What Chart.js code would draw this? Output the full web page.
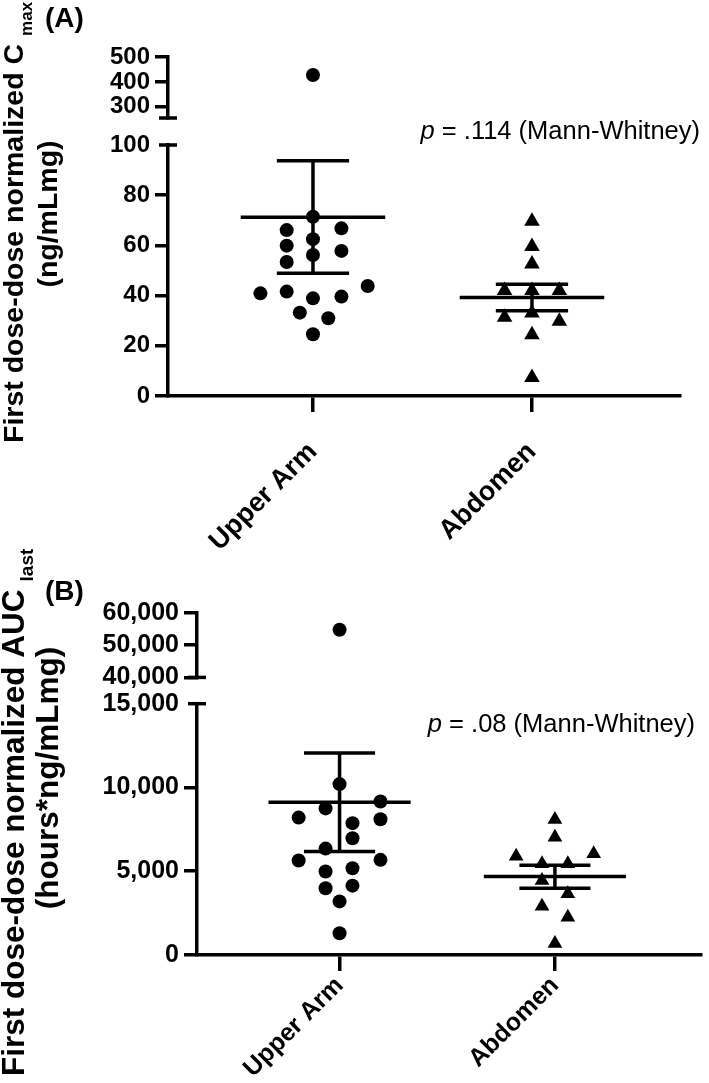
<!DOCTYPE html>
<html>
<head>
<meta charset="utf-8">
<script src="https://cdn.jsdelivr.net/npm/chart.js@4.4.1/dist/chart.umd.min.js"></script>
<style>
html, body { margin: 0; padding: 0; background: #fff; }
#wrap { position: relative; width: 709px; height: 1083px; overflow: hidden; }
canvas { position: absolute; left: 0; }
</style>
</head>
<body>
<div id="wrap">
  <canvas id="panelA" width="709" height="600" style="top:0"></canvas>
  <canvas id="panelB" width="709" height="603" style="top:480px"></canvas>
</div>
<script>
const categories = ['Upper Arm', 'Abdomen'];

// (A) first dose-dose normalized Cmax (ng/mLmg)
const cmaxUpperArm = [71.4, 62.5, 56.2, 38.9, 24.6, 66.1, 59.9, 53.4, 41.6, 66.8, 57.8, 39.6, 40.9, 43.8, 33.2, 31.0, 428];
const cmaxUpperArmJitter = [0, 0, 0, 0, 0, -0.12, -0.12, -0.12, -0.12, 0.13, 0.13, 0.13, -0.24, 0.25, -0.06, 0.07, 0];
const cmaxAbdomen = [69.6, 59.6, 52.6, 42.0, 33.1, 24.4, 7.4, 42.0, 31.4, 42.0, 29.8];
const cmaxAbdomenJitter = [0, 0, 0, 0, 0, 0, 0, -0.125, -0.125, 0.125, 0.125];
const cmaxMean = [71.2, 39.2];
const cmaxErrHigh = [93.7, 44.5];
const cmaxErrLow = [48.9, 34.0];
const cmaxLowerTicks = [0, 20, 40, 60, 80, 100];
const cmaxUpperTicks = [300, 400, 500];

// (B) first dose-dose normalized AUClast (hours*ng/mLmg)
const aucUpperArm = [10200, 3200, 1300, 8750, 6350, 4980, 3980, 7870, 6970, 5180, 4140, 8200, 5640, 9160, 8100, 5680, 54800];
const aucUpperArmJitter = [0, 0, 0, -0.065, -0.065, -0.065, -0.065, 0.06, 0.06, 0.06, 0.06, -0.19, -0.19, 0.19, 0.19, 0.19, 0];
const aucAbdomen = [8090, 7030, 5900, 6040, 5440, 5440, 4440, 3650, 2910, 2250, 680];
const aucAbdomenJitter = [0, 0, -0.18, 0.18, -0.06, 0.06, -0.06, 0.06, -0.06, 0.06, 0];
const aucMean = [9120, 4680];
const aucErrHigh = [12050, 5360];
const aucErrLow = [6180, 3980];
const aucLowerTicks = [0, 5000, 10000, 15000];
const aucUpperTicks = [40000, 50000, 60000];

const BLACK = '#000';
const FONT = '"Liberation Sans", Arial, Helvetica, sans-serif';
const LINE_W = 3.5;
Chart.defaults.font.family = FONT;
Chart.defaults.color = BLACK;

function pointsFor(values, jitter, catIndex, keep) {
    return values
        .map((v, i) => ({ x: catIndex + jitter[i], y: v }))
        .filter(p => keep(p.y));
}

// mean line, two caps and the vertical whisker for each group
function errorBarSets(means, highs, lows) {
    const sets = [];
    means.forEach((m, i) => {
        const segs = [
            [[i - 0.33, m], [i + 0.33, m]],
            [[i - 0.165, highs[i]], [i + 0.165, highs[i]]],
            [[i - 0.165, lows[i]], [i + 0.165, lows[i]]],
            [[i, lows[i]], [i, highs[i]]]
        ];
        segs.forEach(seg => sets.push({
            data: seg.map(([x, y]) => ({ x, y })),
            showLine: true,
            borderColor: BLACK,
            borderWidth: LINE_W,
            pointRadius: 0,
            yAxisID: 'y',
            order: 0
        }));
    });
    return sets;
}

// break caps, panel letter, p-value note and the y title with its subscript
const panelDecor = {
    id: 'panelDecor',
    afterDraw(chart, args, o) {
        const ctx = chart.ctx;
        const top = chart.scales.yTop;
        const low = chart.scales.y;
        const ax = chart.chartArea.left;
        ctx.save();
        ctx.strokeStyle = BLACK;
        ctx.lineWidth = LINE_W;
        [top.getPixelForValue(top.min), low.getPixelForValue(low.max)].forEach(py => {
            ctx.beginPath();
            ctx.moveTo(ax - 9, py);
            ctx.lineTo(ax + 9, py);
            ctx.stroke();
        });

        ctx.fillStyle = BLACK;
        ctx.textBaseline = 'alphabetic';
        ctx.font = 'bold 28px ' + FONT;
        ctx.textAlign = 'left';
        ctx.fillText(o.letter, o.letterX, o.letterY);

        ctx.font = o.noteSize + 'px ' + FONT;
        ctx.textAlign = 'right';
        ctx.fillText(o.note, o.noteX, o.noteY);
        const w = ctx.measureText(o.note).width;
        ctx.font = 'italic ' + o.noteSize + 'px ' + FONT;
        ctx.fillText('p', o.noteX - w, o.noteY);

        ctx.translate(o.titleX, o.titleY);
        ctx.rotate(-Math.PI / 2);
        ctx.textAlign = 'left';
        ctx.font = 'bold ' + o.titleSize + 'px ' + FONT;
        ctx.fillText(o.title, 0, 0);
        const tw = ctx.measureText(o.title).width;
        ctx.font = 'bold ' + Math.round(o.titleSize * 0.6) + 'px ' + FONT;
        ctx.fillText(o.titleSub, tw + 8, 9);
        ctx.font = 'bold ' + o.titleSize + 'px ' + FONT;
        ctx.textAlign = 'center';
        ctx.fillText(o.unit, o.titleY - o.unitY, o.unitX - o.titleX);
        ctx.restore();
    }
};

function makePanel(id, d, look) {
    const lowerMax = d.lowerTicks[d.lowerTicks.length - 1];
    const isHigh = v => v > lowerMax;
    const isLow = v => !isHigh(v);

    const datasets = [
        { data: pointsFor(d.arm, d.armJitter, 0, isLow), yAxisID: 'y', pointStyle: 'circle', pointRadius: look.dotR },
        { data: pointsFor(d.arm, d.armJitter, 0, isHigh), yAxisID: 'yTop', pointStyle: 'circle', pointRadius: look.dotR },
        { data: pointsFor(d.abd, d.abdJitter, 1, isLow), yAxisID: 'y', pointStyle: 'triangle', pointRadius: look.triR },
        { data: pointsFor(d.abd, d.abdJitter, 1, isHigh), yAxisID: 'yTop', pointStyle: 'triangle', pointRadius: look.triR }
    ].map(ds => Object.assign({
        backgroundColor: BLACK,
        borderColor: BLACK,
        pointBorderWidth: 0,
        order: 1
    }, ds)).concat(errorBarSets(d.mean, d.errHigh, d.errLow));

    const tickFont = { weight: 'bold', size: look.tickSize };
    const yGrid = { drawOnChartArea: false, drawTicks: true, tickLength: 13, lineWidth: LINE_W, color: BLACK };
    const yCommon = {
        type: 'linear',
        position: 'left',
        stack: 'left',
        grid: yGrid,
        border: { display: true, width: LINE_W, color: BLACK },
        ticks: {
            font: tickFont, color: BLACK, padding: 5, autoSkip: false,
            callback: v => v.toLocaleString('en-US')
        },
        afterFit: s => { s.width = look.axisX; }
    };

    new Chart(document.getElementById(id), {
        type: 'scatter',
        data: { datasets: datasets },
        options: {
            responsive: false,
            animation: false,
            devicePixelRatio: 1,
            layout: { padding: { top: look.padTop, right: look.padRight, left: 0, bottom: 0 } },
            plugins: {
                legend: { display: false },
                tooltip: { enabled: false },
                panelDecor: look.decor
            },
            scales: {
                x: {
                    type: 'linear',
                    min: -0.662,
                    max: 1.676,
                    afterBuildTicks: s => { s.ticks = categories.map((c, i) => ({ value: i })); },
                    ticks: {
                        callback: v => categories[v],
                        font: { weight: 'bold', size: look.catSize },
                        color: BLACK,
                        minRotation: 45,
                        maxRotation: 45,
                        autoSkip: false,
                        padding: look.catPad
                    },
                    grid: { drawOnChartArea: false, tickLength: 16, lineWidth: LINE_W, color: BLACK },
                    border: { display: true, width: LINE_W, color: BLACK },
                    afterFit: s => { s.height = look.xHeight; }
                },
                y: Object.assign({}, yCommon, {
                    min: 0,
                    max: lowerMax,
                    stackWeight: look.lowerPx,
                    afterBuildTicks: s => { s.ticks = d.lowerTicks.map(v => ({ value: v })); },
                    grid: Object.assign({}, yGrid, {
                        tickColor: c => (c.tick && c.tick.value === lowerMax) ? 'rgba(0,0,0,0)' : BLACK
                    })
                }),
                yGap: {
                    type: 'linear',
                    display: false,
                    position: 'left',
                    stack: 'left',
                    stackWeight: look.gapPx,
                    min: 0,
                    max: 1
                },
                yTop: Object.assign({}, yCommon, {
                    min: d.upperMin,
                    max: d.upperTicks[d.upperTicks.length - 1],
                    stackWeight: look.upperPx,
                    afterBuildTicks: s => { s.ticks = d.upperTicks.map(v => ({ value: v })); }
                })
            }
        },
        plugins: [panelDecor]
    });
}

makePanel('panelA', {
    arm: cmaxUpperArm, armJitter: cmaxUpperArmJitter,
    abd: cmaxAbdomen, abdJitter: cmaxAbdomenJitter,
    mean: cmaxMean, errHigh: cmaxErrHigh, errLow: cmaxErrLow,
    lowerTicks: cmaxLowerTicks, upperTicks: cmaxUpperTicks, upperMin: 255
}, {
    axisX: 168, padTop: 57, padRight: 29, xHeight: 204,
    upperPx: 61, gapPx: 27, lowerPx: 251,
    dotR: 7, triR: 9, tickSize: 24, catSize: 27, catPad: 24,
    decor: {
        letter: '(A)', letterX: 45, letterY: 27,
        note: ' = .114 (Mann-Whitney)', noteX: 700, noteY: 139, noteSize: 25.5,
        title: 'First dose-dose normalized C', titleSub: 'max', titleSize: 28.5,
        titleX: 23, titleY: 443,
        unit: '(ng/mLmg)', unitX: 57, unitY: 214
    }
});

makePanel('panelB', {
    arm: aucUpperArm, armJitter: aucUpperArmJitter,
    abd: aucAbdomen, abdJitter: aucAbdomenJitter,
    mean: aucMean, errHigh: aucErrHigh, errLow: aucErrLow,
    lowerTicks: aucLowerTicks, upperTicks: aucUpperTicks, upperMin: 40000
}, {
    axisX: 197, padTop: 133, padRight: 0, xHeight: 128,
    upperPx: 64.4, gapPx: 26.3, lowerPx: 251.3,
    dotR: 7, triR: 8.5, tickSize: 25, catSize: 25, catPad: 0,
    decor: {
        letter: '(B)', letterX: 45, letterY: 120,
        note: ' = .08 (Mann-Whitney)', noteX: 695, noteY: 252, noteSize: 25.5,
        title: 'First dose-dose normalized AUC', titleSub: 'last', titleSize: 31.5,
        titleX: 24, titleY: 596,
        unit: '(hours*ng/mLmg)', unitX: 58, unitY: 298
    }
});
</script>
</body>
</html>
